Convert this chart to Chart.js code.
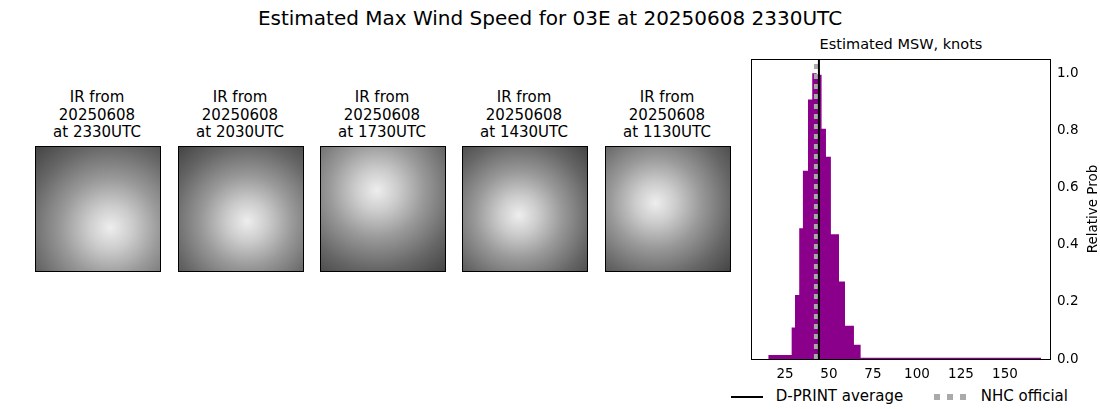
<!DOCTYPE html>
<html>
<head>
<meta charset="utf-8">
<script src="https://cdn.jsdelivr.net/npm/chart.js@4/dist/chart.umd.min.js"></script>
<style>
  body { margin: 0; width: 1100px; height: 409px; background: #fff; font-family: "DejaVu Sans", sans-serif; position: relative; overflow: hidden; }
  .t { position: absolute; text-align: center; color: #000; }
  .thumb { position: absolute; width: 124px; height: 124px; border: 1px solid #000; }
  .cap { position: absolute; width: 160px; text-align: center; font-size: 15px; line-height: 17.5px; }
</style>
</head>
<body>
<div class="t" style="left:0;width:1100px;top:6px;font-size:20px;">Estimated Max Wind Speed for 03E at 20250608 2330UTC</div>
<div class="t" style="left:751px;width:300px;top:36px;font-size:14.5px;">Estimated MSW, knots</div>
<div id="thumbs"></div>
<div style="position:absolute;left:740px;top:35px;width:360px;height:345px;"><canvas id="mainChart"></canvas></div>
<div style="position:absolute;top:387px;left:731px;font-size:15px;">
  <span style="display:inline-block;width:32px;border-top:2px solid #000;vertical-align:middle;"></span>
  <span style="margin-left:8px;">D-PRINT average</span>
  <span style="display:inline-block;width:34px;height:6px;vertical-align:middle;margin-left:26px;background:repeating-linear-gradient(90deg,#aaa 0 6px,transparent 6px 13px);"></span>
  <span style="margin-left:8px;">NHC official</span>
</div>
<script>
// image captions
const imageTimes = ['2330UTC', '2030UTC', '1730UTC', '1430UTC', '1130UTC'];
const imageDate = '20250608';

// histogram bin edges (knots) and relative probabilities
const binEdges = [15.5, 28.8, 30.7, 33.1, 35.2, 38.1, 40.5, 43.0, 45.8, 48.3, 51.1, 55.7, 59.1, 64.2, 68.0, 170.5];
const binProb = [0.014, 0.11, 0.224, 0.458, 0.659, 0.908, 1.0, 0.995, 0.806, 0.708, 0.437, 0.271, 0.116, 0.05, 0.004];
const dprintAvg = 44.3;
const nhcOfficial = 42.6;
const yTicks = [0, 0.2, 0.4, 0.6, 0.8, 1.0];

// thumbnails (imagery not reproducible, draw gray placeholders)
const lefts = [35, 178, 320, 462, 605];
const centers = [[60, 65], [55, 60], [45, 35], [45, 55], [40, 45]];
const holder = document.getElementById('thumbs');
imageTimes.forEach((t, i) => {
    const cap = document.createElement('div');
    cap.className = 'cap';
    cap.style.left = (lefts[i] + 62 - 80) + 'px';
    cap.style.top = '89px';
    cap.innerHTML = 'IR from<br>' + imageDate + '<br>at ' + t;
    holder.appendChild(cap);
    const box = document.createElement('div');
    box.className = 'thumb';
    box.style.left = lefts[i] + 'px';
    box.style.top = '146px';
    const c = centers[i];
    box.style.background = `radial-gradient(circle at ${c[0]}% ${c[1]}%, #eee 0%, #ccc 20%, #999 45%, #666 75%, #444 100%)`;
    holder.appendChild(box);
});

// each bin: point at its left edge, then a closing point at the last edge
const histData = binEdges.map((e, i) => ({ x: e, y: binProb[Math.min(i, binProb.length - 1)] }));

const mainCtx = document.getElementById('mainChart').getContext('2d');
new Chart(mainCtx, {
    type: 'line',
    data: {
        datasets: [{
            data: histData,
            stepped: 'before',
            fill: 'origin',
            backgroundColor: '#8b008b',
            borderColor: '#8b008b',
            borderWidth: 0,
            pointRadius: 0,
            order: 3
        }, {
            data: [{ x: nhcOfficial, y: 0 }, { x: nhcOfficial, y: 1.05 }],
            borderColor: '#aaaaaa',
            borderWidth: 4,
            borderDash: [5, 5],
            pointRadius: 0,
            order: 2
        }, {
            data: [{ x: dprintAvg, y: 0 }, { x: dprintAvg, y: 1.05 }],
            borderColor: '#000',
            borderWidth: 2,
            pointRadius: 0,
            order: 1
        }]
    },
    options: {
        responsive: true,
        maintainAspectRatio: false,
        animation: false,
        layout: { padding: { left: 11, top: 24, right: 0, bottom: 0 } },
        plugins: { legend: { display: false }, tooltip: { enabled: false } },
        scales: {
            x: {
                type: 'linear', min: 5.7, max: 175.6,
                grid: { display: false, tickColor: '#000', tickLength: 4 },
                border: { color: '#000' },
                afterBuildTicks: s => { s.ticks = [25, 50, 75, 100, 125, 150].map(v => ({ value: v })); },
                ticks: { color: '#000', font: { size: 13.5, family: 'DejaVu Sans' }, maxRotation: 0 },
                afterFit: s => { s.height = 21; }
            },
            y: {
                position: 'right', min: 0, max: 1.05,
                grid: { display: false, tickColor: '#000', tickLength: 4 },
                border: { color: '#000' },
                afterBuildTicks: s => { s.ticks = yTicks.map(v => ({ value: v })); },
                ticks: { color: '#000', font: { size: 13.5, family: 'DejaVu Sans' }, callback: v => v.toFixed(1) },
                afterFit: s => { s.width = 50; }
            }
        }
    },
    plugins: [{
        id: 'frame',
        afterDraw(chart) {
            const a = chart.chartArea, g = chart.ctx;
            g.save(); g.strokeStyle = '#000'; g.lineWidth = 1;
            g.strokeRect(a.left + 0.5, a.top + 0.5, a.right - a.left, a.bottom - a.top);
            g.translate(a.right + 43, (a.top + a.bottom) / 2);
            g.rotate(-Math.PI / 2);
            g.fillStyle = '#000'; g.font = '13.5px "DejaVu Sans"';
            g.textAlign = 'center'; g.textBaseline = 'middle';
            g.fillText('Relative Prob', 0, 0);
            g.restore();
        }
    }]
});
</script>
</body>
</html>
